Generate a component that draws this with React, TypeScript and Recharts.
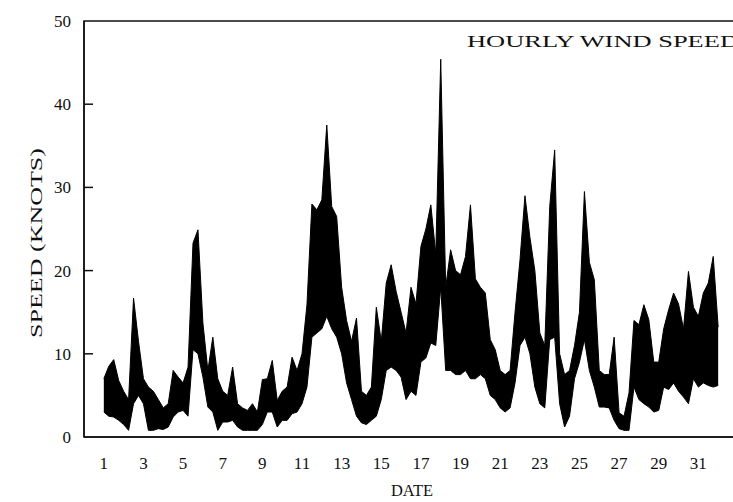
import React from 'react';
import { ComposedChart, Area, XAxis, YAxis, ReferenceArea } from 'recharts';

// Hourly wind speed (knots), summarised as 6-hour envelopes
const START_DAY = 1;
const STEP_HOURS = 6;

const windHigh = [
  7.0, 8.5, 9.3, 6.8, 5.5, 4.5, 16.7, 11.5, 7.0, 6.0,
  5.5, 4.5, 3.5, 4.0, 8.0, 7.2, 6.5, 8.4, 23.3, 24.9,
  13.7, 8.0, 12.0, 7.0, 5.5, 5.0, 8.4, 4.0, 3.5, 3.2,
  4.0, 3.0, 6.9, 7.0, 9.2, 4.4, 5.5, 6.0, 9.6, 8.0,
  10.0, 15.9, 28.0, 27.3, 28.5, 37.5, 27.7, 26.5, 18.0, 14.0,
  11.5, 14.3, 5.5, 5.0, 6.0, 15.6, 11.5, 18.5, 20.7, 17.5,
  15.0, 12.5, 18.0, 16.0, 22.9, 25.0, 27.9, 22.0, 45.4, 18.0,
  22.5, 20.0, 19.5, 21.7, 27.9, 19.0, 18.0, 17.3, 11.7, 10.5,
  8.0, 7.5, 8.0, 15.0, 21.3, 29.0, 24.0, 20.0, 12.5, 11.0,
  27.7, 34.5, 10.0, 7.5, 8.0, 11.0, 15.0, 29.5, 21.0, 18.9,
  8.0, 7.5, 7.5, 12.0, 2.9, 2.5, 5.3, 14.0, 13.5, 15.9,
  14.1, 9.0, 9.0, 13.0, 15.3, 17.3, 16.0, 13.0, 19.9, 15.6,
  14.5, 17.3, 18.5, 21.7, 13.2,
];

const windLow = [
  3.0, 2.5, 2.4, 2.0, 1.5, 0.8, 4.0, 5.0, 4.0, 0.8,
  0.8, 1.0, 0.9, 1.2, 2.4, 3.0, 3.2, 2.5, 10.5, 10.0,
  7.2, 3.6, 3.0, 0.8, 1.8, 1.8, 2.0, 1.2, 0.8, 0.8,
  0.8, 0.8, 1.5, 3.0, 3.0, 1.2, 2.0, 2.0, 2.8, 3.0,
  4.0, 6.0, 12.0, 12.5, 13.0, 14.5, 13.0, 12.0, 10.0, 6.5,
  4.5, 2.5, 1.7, 1.5, 2.0, 2.5, 4.5, 8.0, 8.4, 8.0,
  7.2, 4.5, 5.5, 5.0, 9.0, 9.5, 11.3, 11.0, 18.0, 8.0,
  8.0, 7.5, 7.5, 8.0, 7.0, 7.0, 7.5, 7.0, 5.0, 4.5,
  3.5, 3.0, 3.5, 6.5, 11.0, 12.0, 10.0, 6.0, 4.0, 3.5,
  11.7, 12.0, 4.0, 1.2, 2.5, 7.0, 9.0, 11.7, 8.0, 6.0,
  3.6, 3.6, 3.5, 2.0, 1.0, 0.8, 0.8, 6.0, 4.5, 4.0,
  3.6, 3.0, 3.2, 6.0, 5.7, 6.5, 5.5, 4.8, 4.0, 7.0,
  6.0, 6.5, 6.2, 6.0, 6.2,
];

const xTicks = [1, 3, 5, 7, 9, 11, 13, 15, 17, 19, 21, 23, 25, 27, 29, 31];
const yTicks = [0, 10, 20, 30, 40, 50];
const TITLE = 'HOURLY WIND SPEED';
const X_LABEL = 'DATE';
const Y_LABEL = 'SPEED (KNOTS)';

const data = windHigh.map((h, i) => ({
  day: START_DAY + (i * STEP_HOURS) / 24,
  range: [windLow[i], h],
}));

const FONT = '"Liberation Serif", "Times New Roman", serif';
const INK = '#111';

const YTick = (props: any) => {
  const { x, y, payload } = props;
  const v = payload.value;
  return (
    <g>
      <text x={x} y={y} dy={6} textAnchor="end" fontFamily={FONT} fontSize={17} fill={INK}>
        {v}
      </text>
      {v > 0 && v < 50 && (
        <line x1={x + 13} x2={x + 22} y1={y} y2={y} stroke={INK} strokeWidth={1.5} />
      )}
    </g>
  );
};

const XTick = (props: any) => {
  const { x, y, payload } = props;
  return (
    <text x={x} y={y} dy={12} textAnchor="middle" fontFamily={FONT} fontSize={17} fill={INK}>
      {payload.value}
    </text>
  );
};

export default function App() {
  return (
    <div
      style={{
        position: 'absolute',
        left: 0,
        top: 0,
        width: 733,
        height: 502,
        overflow: 'hidden',
        background: '#fff',
      }}
    >
      <ComposedChart
        width={760}
        height={502}
        data={data}
        margin={{ top: 21, right: 22, left: 0, bottom: 35 }}
      >
        <XAxis
          type="number"
          dataKey="day"
          domain={[0, 33]}
          ticks={xTicks}
          allowDataOverflow
          tickSize={0}
          tickMargin={20}
          height={30}
          axisLine={{ stroke: INK, strokeWidth: 1.5 }}
          tickLine={false}
          tick={<XTick />}
        />
        <YAxis
          type="number"
          domain={[0, 50]}
          ticks={yTicks}
          allowDataOverflow
          width={84}
          tickSize={0}
          tickMargin={13}
          axisLine={{ stroke: INK, strokeWidth: 1.5 }}
          tickLine={false}
          tick={<YTick />}
        />
        <ReferenceArea
          x1={0}
          x2={33}
          y1={0}
          y2={50}
          fill="none"
          stroke={INK}
          strokeWidth={1.5}
          ifOverflow="visible"
        />
        <Area
          type="linear"
          dataKey="range"
          stroke="#000"
          strokeWidth={1}
          fill="#000"
          fillOpacity={1}
          isAnimationActive={false}
          dot={false}
          activeDot={false}
        />
      </ComposedChart>
      <svg
        width={733}
        height={502}
        style={{ position: 'absolute', left: 0, top: 0, pointerEvents: 'none' }}
      >
        <text
          x={467}
          y={47}
          fontFamily={FONT}
          fontSize={17}
          fill={INK}
          textLength={272}
          lengthAdjust="spacingAndGlyphs"
        >
          {TITLE}
        </text>
        <text
          x={391}
          y={496}
          fontFamily={FONT}
          fontSize={17}
          fill={INK}
          textLength={42}
          lengthAdjust="spacingAndGlyphs"
        >
          {X_LABEL}
        </text>
        <text
          transform="translate(42, 338) rotate(-90)"
          x={0}
          y={0}
          fontFamily={FONT}
          fontSize={17}
          fill={INK}
          textLength={190}
          lengthAdjust="spacingAndGlyphs"
        >
          {Y_LABEL}
        </text>
      </svg>
    </div>
  );
}
